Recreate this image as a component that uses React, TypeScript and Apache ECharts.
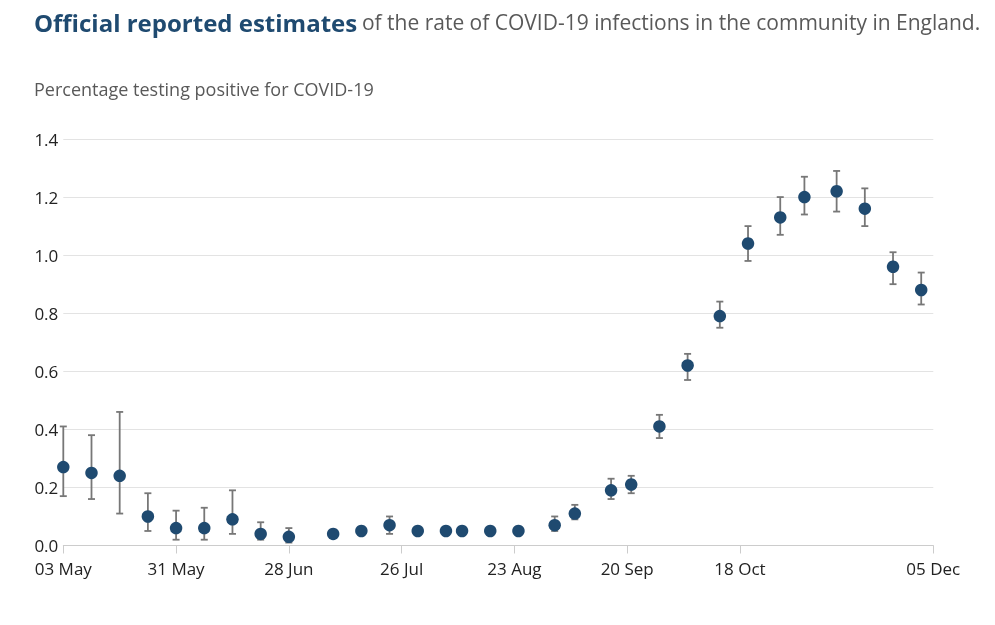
import React, { useEffect, useRef } from "react";
import * as echarts from "echarts";

const dates = [
  "2020-05-03", "2020-05-10", "2020-05-17", "2020-05-24", "2020-05-31", "2020-06-07",
  "2020-06-14", "2020-06-21", "2020-06-28", "2020-07-09", "2020-07-16", "2020-07-23",
  "2020-07-30", "2020-08-06", "2020-08-10", "2020-08-17", "2020-08-24", "2020-09-02",
  "2020-09-07", "2020-09-16", "2020-09-21", "2020-09-28", "2020-10-05", "2020-10-13",
  "2020-10-20", "2020-10-28", "2020-11-03", "2020-11-11", "2020-11-18", "2020-11-25",
  "2020-12-02",
];
const rate = [
  0.27, 0.25, 0.24, 0.10, 0.06, 0.06, 0.09, 0.04, 0.03, 0.04, 0.05, 0.07,
  0.05, 0.05, 0.05, 0.05, 0.05, 0.07, 0.11, 0.19, 0.21, 0.41, 0.62, 0.79,
  1.04, 1.13, 1.20, 1.22, 1.16, 0.96, 0.88,
];
const lower = [
  0.17, 0.16, 0.11, 0.05, 0.02, 0.02, 0.04, 0.02, 0.01, 0.03, 0.04, 0.04,
  0.04, 0.04, 0.04, 0.04, 0.04, 0.05, 0.09, 0.16, 0.18, 0.37, 0.57, 0.75,
  0.98, 1.07, 1.14, 1.15, 1.10, 0.90, 0.83,
];
const upper = [
  0.41, 0.38, 0.46, 0.18, 0.12, 0.13, 0.19, 0.08, 0.06, 0.05, 0.06, 0.10,
  0.06, 0.06, 0.06, 0.06, 0.06, 0.10, 0.14, 0.23, 0.24, 0.45, 0.66, 0.84,
  1.10, 1.20, 1.27, 1.29, 1.23, 1.01, 0.94,
];
const tickDates = [
  "2020-05-03", "2020-05-31", "2020-06-28", "2020-07-26",
  "2020-08-23", "2020-09-20", "2020-10-18", "2020-12-05",
];
const xMin = "2020-05-03";
const xMax = "2020-12-05";
const monthNames = ["Jan", "Feb", "Mar", "Apr", "May", "Jun", "Jul", "Aug", "Sep", "Oct", "Nov", "Dec"];

const titleBold = "Official reported estimates";
const titleRest = "of the rate of COVID-19 infections in the community in England.";
const subtitle = "Percentage testing positive for COVID-19";

const DAY = 86400000;
function utc(s: string): number {
  const [y, m, d] = s.split("-").map(Number);
  return Date.UTC(y, m - 1, d);
}
// days since xMin
function dayOf(s: string): number {
  return Math.round((utc(s) - utc(xMin)) / DAY);
}
function fmt(v: number): string {
  const d = new Date(utc(xMin) + Math.round(v) * DAY);
  const dd = d.getUTCDate();
  return (dd < 10 ? "0" + dd : "" + dd) + " " + monthNames[d.getUTCMonth()];
}

const FONT = "'Open Sans', sans-serif";
const NAVY = "#1f4a70";

export default function App() {
  const ref = useRef<HTMLDivElement>(null);
  useEffect(() => {
    if (!ref.current) return;
    const chart = echarts.init(ref.current, null, { renderer: "svg" });
    const points = dates.map((d, i) => [dayOf(d), rate[i]]);
    const bars = dates.map((d, i) => [dayOf(d), lower[i], upper[i]]);
    const ticks = tickDates.map(dayOf);
    chart.setOption({
      animation: false,
      textStyle: { fontFamily: FONT },
      title: [
        {
          left: 34,
          top: 8,
          padding: 0,
          text: "{a|" + titleBold + "} {b|" + titleRest + "}",
          textStyle: {
            fontWeight: "normal",
            rich: {
              a: { fontFamily: FONT, fontSize: 24, fontWeight: "bold", color: NAVY, lineHeight: 28 },
              b: { fontFamily: FONT, fontSize: 21, fontWeight: "normal", color: "#595959", lineHeight: 28 },
            },
          },
        },
        {
          left: 34,
          top: 78,
          padding: 0,
          text: subtitle,
          textStyle: { fontFamily: FONT, fontSize: 18, fontWeight: "normal", color: "#595959", lineHeight: 22 },
        },
      ],
      grid: { left: 63.3, right: 61.7, top: 139, bottom: 79.5, containLabel: false },
      xAxis: {
        type: "value",
        min: dayOf(xMin),
        max: dayOf(xMax),
        splitLine: { show: false },
        axisLine: { show: true, lineStyle: { color: "#cccccc", width: 1 } },
        axisTick: { show: true, length: 8, lineStyle: { color: "#cccccc" }, customValues: ticks },
        axisLabel: {
          customValues: ticks,
          formatter: (v: number) => fmt(v),
          color: "#222222",
          fontFamily: FONT,
          fontSize: 17,
          lineHeight: 17,
          margin: 14,
          hideOverlap: false,
          showMinLabel: true,
          showMaxLabel: true,
        },
      },
      yAxis: {
        type: "value",
        min: 0,
        max: 1.4,
        interval: 0.2,
        axisLine: { show: false },
        axisTick: { show: false },
        splitLine: { show: true, lineStyle: { color: "#e3e3e3", width: 1 } },
        axisLabel: {
          formatter: (v: number) => v.toFixed(1),
          color: "#222222",
          fontFamily: FONT,
          fontSize: 17,
          lineHeight: 15,
          margin: 5,
        },
      },
      series: [
        {
          type: "custom",
          z: 2,
          data: bars,
          encode: { x: 0, y: [1, 2] },
          renderItem: (params: any, api: any) => {
            const x = api.value(0);
            const lo = api.coord([x, api.value(1)]);
            const hi = api.coord([x, api.value(2)]);
            const cx = lo[0];
            const w = 3.5;
            const style = { stroke: "#777777", lineWidth: 1.8 };
            return {
              type: "group",
              children: [
                { type: "line", shape: { x1: cx, y1: lo[1], x2: cx, y2: hi[1] }, style },
                { type: "line", shape: { x1: cx - w, y1: lo[1], x2: cx + w, y2: lo[1] }, style },
                { type: "line", shape: { x1: cx - w, y1: hi[1], x2: cx + w, y2: hi[1] }, style },
              ],
            };
          },
        },
        {
          type: "scatter",
          z: 3,
          data: points,
          symbol: "circle",
          symbolSize: 12.5,
          itemStyle: { color: NAVY, opacity: 1 },
        },
      ],
    });
    return () => chart.dispose();
  }, []);
  return <div ref={ref} style={{ position: "fixed", left: 0, top: 0, width: 995, height: 625 }} />;
}
